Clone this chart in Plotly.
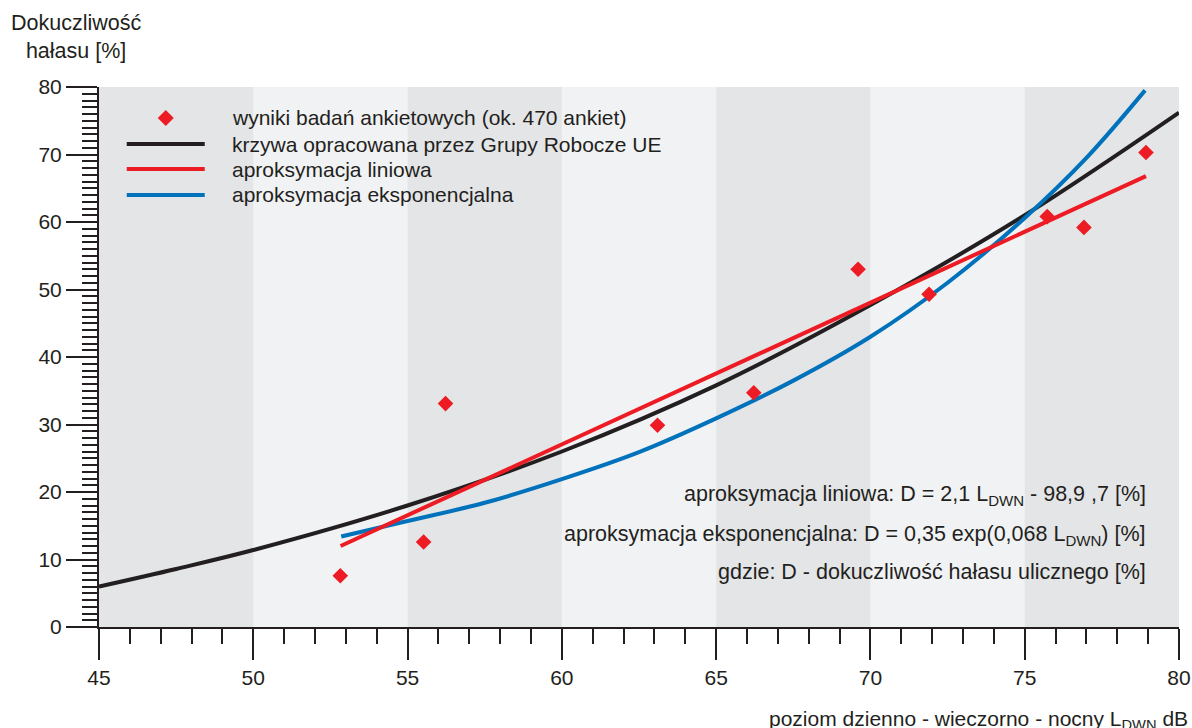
import plotly.graph_objects as go

# Survey results: L_DWN level [dB] and share of annoyed respondents [%]
survey_x = [52.82, 55.52, 56.23, 63.10, 66.22, 69.60, 71.90, 75.73, 76.92, 78.93]
survey_y = [7.6, 12.6, 33.1, 29.9, 34.7, 53.0, 49.3, 60.8, 59.2, 70.3]

# EU working-group dose-response curve
eu_x = [45, 47.5, 50, 55, 60, 65, 70, 75, 80]
eu_y = [6.0, 8.6, 11.4, 18.0, 26.0, 35.8, 47.7, 61.0, 76.2]

# Linear approximation (end points)
lin_x = [52.83, 78.93]
lin_y = [12.0, 66.8]

# Exponential approximation
exp_x = [52.85, 55, 57.5, 60, 62.5, 65, 67.5, 70, 72.5, 75, 77, 78.9]
exp_y = [13.4, 15.7, 18.4, 21.9, 25.9, 30.9, 36.5, 43.0, 51.0, 60.6, 69.5, 79.5]

# Alternating background bands along the L_DWN axis
band_edges = [45, 50, 55, 60, 65, 70, 75, 80]

legend_labels = [
    "wyniki badań ankietowych (ok. 470 ankiet)",
    "krzywa opracowana przez Grupy Robocze UE",
    "aproksymacja liniowa",
    "aproksymacja eksponencjalna",
]

equation_labels = [
    "aproksymacja liniowa: D = 2,1 L<sub>DWN</sub> - 98,9 ,7 [%]",
    "aproksymacja eksponencjalna: D = 0,35 exp(0,068 L<sub>DWN</sub>) [%]",
    "gdzie: D - dokuczliwość hałasu ulicznego [%]",
]

INK = "#231f20"
RED = "#ed1c24"
BLUE = "#0072bc"
BAND_DARK = "#e4e5e7"
BAND_LIGHT = "#f1f2f4"
FONT = "Liberation Sans, Arial, sans-serif"

fig = go.Figure()

fig.add_trace(go.Scatter(x=eu_x, y=eu_y, mode="lines", line=dict(color=INK, width=4, shape="spline"),
                         showlegend=False, hoverinfo="skip"))
fig.add_trace(go.Scatter(x=exp_x, y=exp_y, mode="lines", line=dict(color=BLUE, width=4, shape="spline"),
                         showlegend=False, hoverinfo="skip"))
fig.add_trace(go.Scatter(x=lin_x, y=lin_y, mode="lines", line=dict(color=RED, width=4),
                         showlegend=False, hoverinfo="skip"))
fig.add_trace(go.Scatter(x=survey_x, y=survey_y, mode="markers",
                         marker=dict(symbol="diamond", size=12, color=RED, line=dict(width=0)),
                         showlegend=False))

shapes = []
for i in range(len(band_edges) - 1):
    if i % 2 == 0:
        shapes.append(dict(type="rect", xref="x", yref="paper", x0=band_edges[i], x1=band_edges[i + 1],
                           y0=0, y1=1, fillcolor=BAND_DARK, line=dict(width=0), layer="below"))

# Hand-drawn legend
leg_row_y = [0.9426, 0.8944, 0.8481, 0.8000]
leg_line_x = (0.0257, 0.0979)
leg_text_x = 0.1212
shapes.append(dict(type="path", xref="paper", yref="paper", xsizemode="pixel", ysizemode="pixel",
                   xanchor=(leg_line_x[0] + leg_line_x[1]) / 2, yanchor=leg_row_y[0],
                   path="M 0 8 L 8 0 L 0 -8 L -8 0 Z", fillcolor=RED, line=dict(width=0)))
for color, yy in zip([INK, RED, BLUE], leg_row_y[1:]):
    shapes.append(dict(type="line", xref="paper", yref="paper", x0=leg_line_x[0], x1=leg_line_x[1],
                       y0=yy, y1=yy, line=dict(color=color, width=4)))

annotations = []
for label, yy in zip(legend_labels, leg_row_y):
    annotations.append(dict(text=label, xref="paper", yref="paper", x=leg_text_x, y=yy,
                            xanchor="left", yanchor="middle", showarrow=False,
                            font=dict(family=FONT, size=21, color=INK)))

for label, yy in zip(equation_labels, [0.2426, 0.1700, 0.1019]):
    annotations.append(dict(text=label, xref="paper", yref="paper", x=0.9713, y=yy,
                            xanchor="right", yanchor="middle", showarrow=False,
                            font=dict(family=FONT, size=21.5, color=INK)))

annotations.append(dict(text="Dokuczliwość<br>hałasu [%]", xref="paper", yref="paper",
                        x=-0.0216, y=1.0926, xanchor="center", yanchor="middle", align="center",
                        showarrow=False, font=dict(family=FONT, size=21.5, color=INK)))
annotations.append(dict(text="poziom dzienno - wieczorno - nocny L<sub>DWN</sub> dB", xref="paper", yref="paper",
                        x=1.0102, y=-0.1725, xanchor="right", yanchor="middle",
                        showarrow=False, font=dict(family=FONT, size=21, color=INK)))

axis_common = dict(
    showgrid=False, zeroline=False, showline=True, linecolor=INK, linewidth=2,
    ticks="outside", tickcolor=INK, tickwidth=1.5, ticklen=31, automargin=False,
    tickfont=dict(family=FONT, size=21, color=INK),
)

fig.update_layout(
    width=1192, height=728,
    margin=dict(l=99, r=13, t=87, b=101),
    paper_bgcolor="white", plot_bgcolor=BAND_LIGHT,
    font=dict(family=FONT, size=21, color=INK),
    shapes=shapes, annotations=annotations, showlegend=False,
    xaxis=dict(range=[45, 80], dtick=5, tick0=45,
               minor=dict(dtick=1, ticks="outside", ticklen=15, tickwidth=1.5, tickcolor=INK),
               **axis_common),
    yaxis=dict(range=[0, 80], dtick=10, tick0=0,
               minor=dict(dtick=1, ticks="outside", ticklen=15, tickwidth=1.5, tickcolor=INK),
               **axis_common),
)

fig.write_html("out.html")
